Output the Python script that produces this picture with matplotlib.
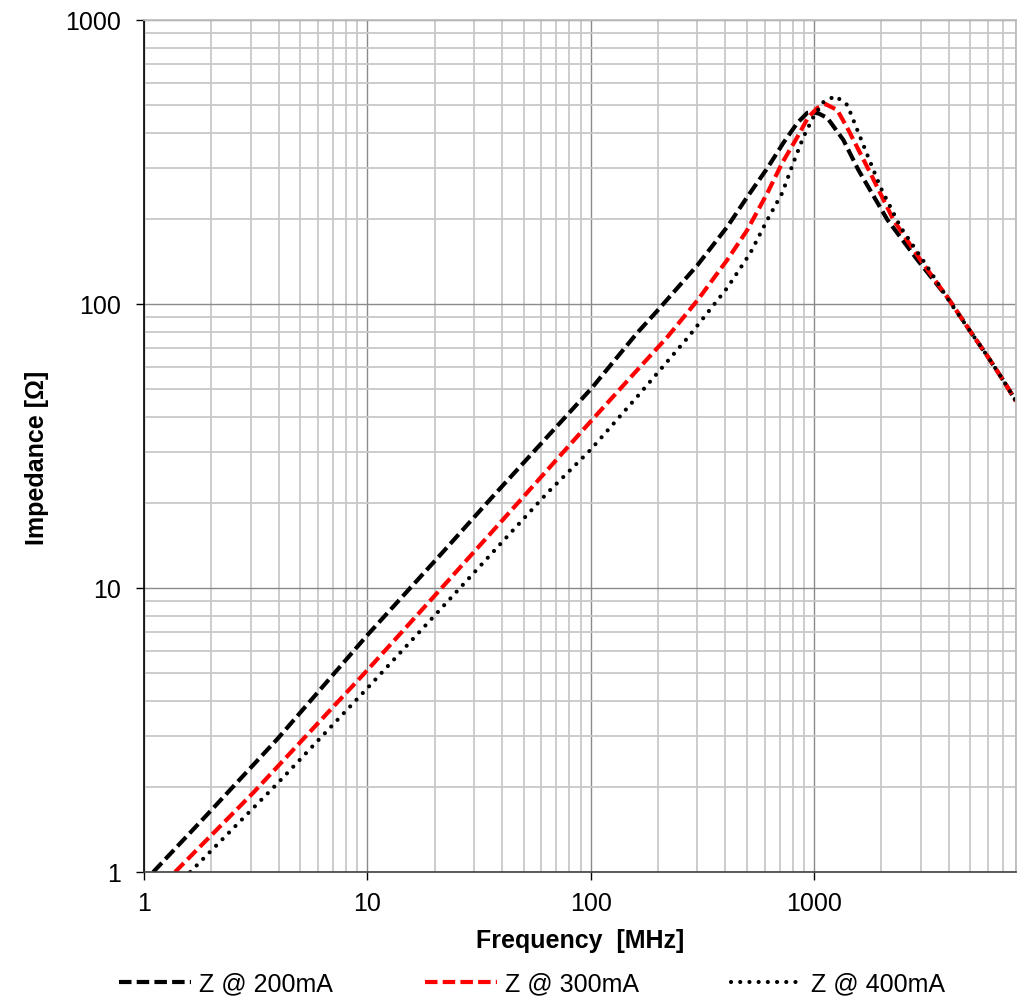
import matplotlib
matplotlib.use("Agg")
import matplotlib.pyplot as plt
import matplotlib.ticker as mticker

plt.rcParams["font.family"] = ["Liberation Sans", "DejaVu Sans"]

# ------------------------------------------------------------
# Data (frequency in MHz, impedance in Ohm)
# ------------------------------------------------------------
F_200 = [1.1, 2, 4, 10, 20.5, 35.4, 50, 101, 161, 200, 300, 408, 501, 617, 727, 840,
         931, 983, 1050, 1145, 1350, 1578, 2125, 2897, 4000, 5000, 6000, 7000, 8000]
Z_200 = [1.0, 1.65, 2.97, 6.83, 12.7, 20.5, 27.6, 50.6, 79, 95.3, 137, 187, 238, 301, 369, 434,
         471, 474, 468, 452, 378, 296, 198, 143, 104, 80, 65, 54, 45.5]

F_300 = [1.377, 3.08, 10, 20.7, 49.8, 101, 166, 220, 300, 408, 501, 617, 719, 840, 941,
         1032, 1122, 1268, 1422, 1578, 1783, 2260, 2986, 4000, 5000, 6000, 7000, 8000]
Z_300 = [1.0, 1.90, 5.14, 9.68, 20.9, 39, 60, 76.5, 103, 143, 182, 246, 314, 387, 455,
         490, 506, 482, 410, 349, 289, 198, 143, 104, 80, 65, 54, 45.5]

F_400 = [1.61, 3.98, 10, 20.5, 63.8, 99.5, 161, 273, 408, 517, 617, 719, 806, 894, 991,
         1099, 1243, 1407, 1578, 1977, 2430, 3213, 4066, 5000, 6000, 7000, 8000]
Z_400 = [1.0, 2.06, 4.44, 8.17, 21.6, 30.6, 47.1, 76.5, 114, 151, 198, 246, 314, 387, 455,
         514, 540, 502, 400, 258, 187, 135, 101, 80, 65, 54, 45.5]

LABELS = ["Z @ 200mA", "Z @ 300mA", "Z @ 400mA"]
X_TICKS = [1, 10, 100, 1000]
Y_TICKS = [1, 10, 100, 1000]

FS = 18

fig = plt.figure(figsize=(10.35, 9.97), dpi=100)
ax = fig.add_axes([144 / 1035, 125 / 997, 872 / 1035, 852 / 997])

ax.set_xscale("log")
ax.set_yscale("log")
ax.set_xlim(1, 8000)
ax.set_ylim(1, 1000)

# grid
ax.xaxis.set_minor_locator(mticker.LogLocator(base=10, subs=range(2, 10)))
ax.yaxis.set_minor_locator(mticker.LogLocator(base=10, subs=range(2, 10)))
ax.xaxis.set_minor_formatter(mticker.NullFormatter())
ax.yaxis.set_minor_formatter(mticker.NullFormatter())
ax.grid(which="minor", color="#c8c8c8", linewidth=1.3)
ax.grid(which="major", color="#8a8a8a", linewidth=1.0)
ax.set_axisbelow(True)

l1, = ax.plot(F_200, Z_200, color="black", linewidth=3,
              linestyle=(0, (3, 1.25)), dash_capstyle="butt")
l2, = ax.plot(F_300, Z_300, color="#ff0000", linewidth=3,
              linestyle=(0, (3, 1.25)), dash_capstyle="butt")
l3, = ax.plot(F_400, Z_400, color="black", linewidth=3,
              linestyle=(0, (0.01, 2.2)), dash_capstyle="round")

ax.set_xticks(X_TICKS)
ax.set_xticklabels([str(v) for v in X_TICKS])
ax.set_yticks(Y_TICKS)
ax.set_yticklabels([str(v) for v in Y_TICKS])
ax.tick_params(which="major", direction="out", length=5.5, width=1, labelsize=FS,
               color="black")
ax.tick_params(axis="x", pad=9)
ax.tick_params(axis="y", pad=11)
ax.tick_params(which="minor", length=0)

for s in ["top", "right"]:
    ax.spines[s].set_color("#bdbdbd")
    ax.spines[s].set_linewidth(1.3)
ax.spines["left"].set_color("black")
ax.spines["bottom"].set_color("#404040")
ax.spines["left"].set_linewidth(1.2)
ax.spines["bottom"].set_linewidth(1.2)

ax.set_xlabel("Frequency  [MHz]", fontsize=FS, fontweight="bold")
ax.set_ylabel("Impedance [\u03a9]", fontsize=FS, fontweight="bold")
ax.xaxis.set_label_coords(0.5, -0.067)
ax.yaxis.set_label_coords(-0.109, 0.486)

fig.legend([l1, l2, l3], LABELS, loc="center", bbox_to_anchor=(0.514, 0.013),
           ncol=3, frameon=False, fontsize=FS, handlelength=2.9,
           handletextpad=0.3, columnspacing=3.7)

fig.savefig("out.png", dpi=100)
